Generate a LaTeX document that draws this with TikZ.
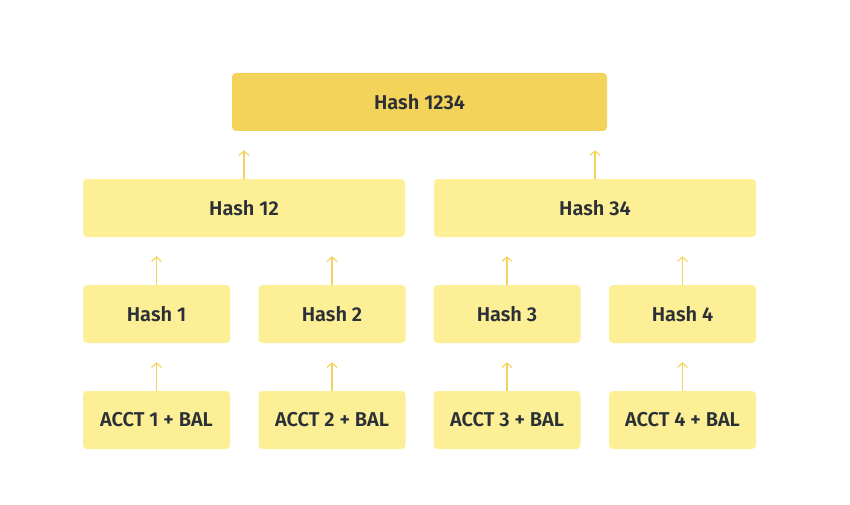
\documentclass[tikz,border=0pt]{standalone}
\usepackage{fontspec}
\setmainfont{Fira Sans}[BoldFont={Fira Sans SemiBold}]
\usetikzlibrary{arrows.meta,positioning,calc}
\definecolor{hashgold}{HTML}{F3D35A}
\definecolor{hashlight}{HTML}{FCEF95}
\definecolor{hashtext}{HTML}{2B2F36}
\tikzset{hashbox/.style={rectangle,rounded corners=4pt,fill=hashlight,text=hashtext,font=\fontsize{20}{24}\selectfont\bfseries,minimum height=58pt,inner sep=0pt}}
\tikzset{roothash/.style={hashbox,fill=hashgold}}
\tikzset{>={Straight Barb[length=4.5pt,width=10pt]},uparrow/.style={->,draw=hashgold,line width=1.1pt}}

\begin{document}
\begin{tikzpicture}[x=1pt,y=-1pt]
        \useasboundingbox (0,0) rectangle (850,505);
        \node[roothash,minimum width=375pt] (root) at (419.5,102) {Hash 1234};

        \node[hashbox,minimum width=322pt] (h12) at (244,208) {Hash 12};
        \node[hashbox,minimum width=322pt] (h34) at (595,208) {Hash 34};

        \node[hashbox,minimum width=147pt] (h1) at (156.5,314) {Hash 1};
        \node[hashbox,minimum width=147pt] (h2) at (332,314) {Hash 2};
        \node[hashbox,minimum width=147pt] (h3) at (507,314) {Hash 3};
        \node[hashbox,minimum width=147pt] (h4) at (682.5,314) {Hash 4};

        \node[hashbox,minimum width=147pt] (a1) at (156.5,420) {ACCT 1 + BAL};
        \node[hashbox,minimum width=147pt] (a2) at (332,420) {ACCT 2 + BAL};
        \node[hashbox,minimum width=147pt] (a3) at (507,420) {ACCT 3 + BAL};
        \node[hashbox,minimum width=147pt] (a4) at (682.5,420) {ACCT 4 + BAL};

        \foreach \child/\parent in {h12/root,h34/root,h1/h12,h2/h12,h3/h34,h4/h34,a1/h1,a2/h2,a3/h3,a4/h4}
            \draw[uparrow] (\child.north) -- ($(\child.north)!0.6!(\child.north |- \parent.south)$);
    \end{tikzpicture}
\end{document}
